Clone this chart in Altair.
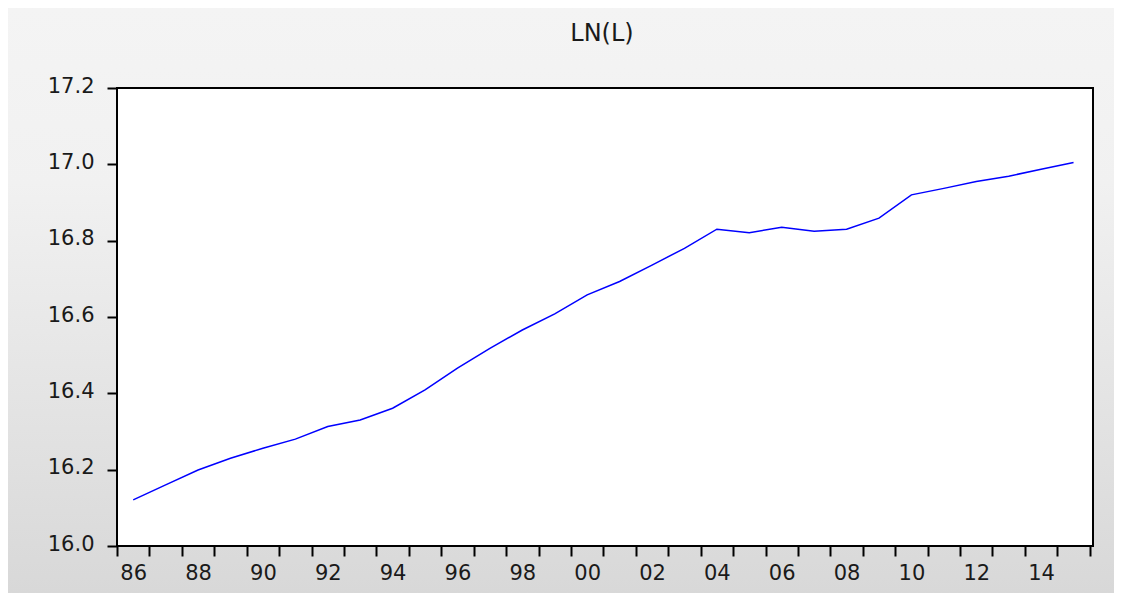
import altair as alt
import pandas as pd

# Annual observations (plotted at mid-year, EViews style)
years = list(range(1986, 2016))
ln_l = [16.121, 16.160, 16.199, 16.230, 16.256, 16.280, 16.313, 16.330, 16.361, 16.409,
        16.466, 16.518, 16.566, 16.608, 16.658, 16.693, 16.736, 16.780, 16.830, 16.821,
        16.835, 16.825, 16.830, 16.859, 16.920, 16.937, 16.955, 16.969, 16.987, 17.005]

y_ticks = [16.0, 16.2, 16.4, 16.6, 16.8, 17.0, 17.2]
x_year_ticks = list(range(1986, 2017))
x_label_pos = [y + 0.5 for y in range(1986, 2016)]
title_text = "LN(L)"

df = pd.DataFrame({"t": [y + 0.5 for y in years], "v": ln_l})

W, H = 976, 458
PAD = {"left": 109, "top": 80, "right": 21, "bottom": 47}
FONT = "DejaVu Sans"

bg = alt.Chart(alt.Data(values=[{"a": 1}])).mark_rect(
    fill={"gradient": "linear", "x1": 0, "y1": 0, "x2": 0, "y2": 1,
          "stops": [{"offset": 0, "color": "#f4f4f4"},
                    {"offset": 0.3, "color": "#f1f1f1"},
                    {"offset": 1, "color": "#d8d8d8"}]}
).encode(
    x=alt.value(-PAD["left"]), x2=alt.value(W + PAD["right"]),
    y=alt.value(-PAD["top"]), y2=alt.value(H + PAD["bottom"])
)

plot_bg = alt.Chart(alt.Data(values=[{"a": 1}])).mark_rect(
    fill="white", stroke="black", strokeWidth=2
).encode(
    x=alt.value(0), x2=alt.value(W), y=alt.value(0), y2=alt.value(H)
)

title = alt.Chart(alt.Data(values=[{"a": 1}])).mark_text(
    text=title_text, font=FONT, fontSize=24, color="#1a1a1a",
    align="center", baseline="alphabetic"
).encode(x=alt.value(W / 2 - 3), y=alt.value(-47))

line = alt.Chart(df).mark_line(color="#0000ff", strokeWidth=1.5).encode(
    x=alt.X("t:Q",
            scale=alt.Scale(domain=[1986, 2016.1], nice=False, zero=False),
            axis=alt.Axis(values=x_year_ticks + x_label_pos,
                          tickSize=10, tickWidth=2, tickColor="black",
                          tickOpacity={"condition": {"test": "datum.value % 1 == 0", "value": 1}, "value": 0},
                          labelExpr="(datum.value % 1 != 0 && floor(datum.value) % 2 == 0) ? format(floor(datum.value) % 100, '02d') : ''",
                          labelOverlap=False, labelBound=False, labelFlush=False,
                          labelPadding=6, labelFontSize=21, labelFont=FONT, labelColor="#1a1a1a",
                          domain=False, grid=False, zindex=1),
            title=""),
    y=alt.Y("v:Q",
            scale=alt.Scale(domain=[16.0, 17.2], nice=False, zero=False),
            axis=alt.Axis(values=y_ticks, format=".1f",
                          tickSize=10, tickWidth=2, tickColor="black",
                          labelPadding=13, labelFontSize=21, labelFont=FONT, labelColor="#1a1a1a",
                          labelOffset=-2,
                          domain=False, grid=False, zindex=1),
            title="")
)

chart = alt.layer(bg, plot_bg, title, line).properties(
    width=W, height=H,
    autosize=alt.AutoSizeParams(type="none"),
    padding=PAD,
    background="white",
).configure_view(strokeWidth=0)

chart.save("out.html", embed_options={"renderer": "svg", "actions": False})
